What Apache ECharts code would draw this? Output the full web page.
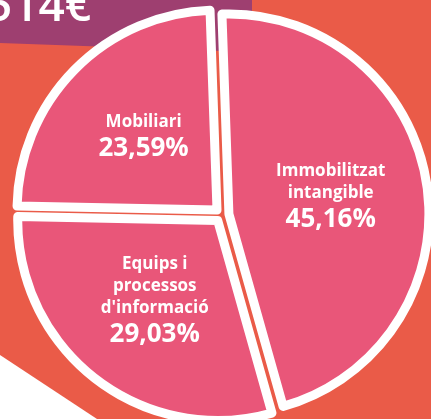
<!DOCTYPE html>
<html>
<head>
<meta charset="utf-8">
<script src="https://cdn.jsdelivr.net/npm/echarts@6/dist/echarts.min.js"></script>
<style>
  html, body { margin: 0; padding: 0; }
  #chart { width: 431px; height: 419px; }
</style>
</head>
<body>
<div id="chart"></div>
<script>
// slices in clockwise order from the top
const categories = ['Immobilitzat\nintangible', "Equips i\nprocessos\nd'informació", 'Mobiliari']
const values = [45.16, 29.03, 23.59]
const bannerText = '514€'

const chart = echarts.init(document.getElementById('chart'))

const fmt = v => v.toFixed(2).replace('.', ',') + '%'

chart.setOption({
  backgroundColor: '#EA5B48',
  animation: false,
  graphic: [
    {
      type: 'polygon',
      z: 0,
      shape: { points: [[0, 0], [252, 0], [252, 52], [0, 43]] },
      style: { fill: '#9E3F70' }
    },
    {
      type: 'text',
      z: 1,
      left: -14,
      top: -15,
      style: {
        text: bannerText,
        fill: '#fff',
        font: '600 46px "Open Sans", sans-serif'
      }
    },
    {
      type: 'polygon',
      z: 0,
      shape: { points: [[0, 355], [97, 419], [0, 419]] },
      style: { fill: '#fff' }
    }
  ],
  series: [
    {
      type: 'pie',
      z: 2,
      center: [222, 215],
      radius: [0, 200],
      startAngle: 92,
      clockwise: true,
      selectedMode: 'multiple',
      selectedOffset: 7,
      itemStyle: {
        color: '#E95679',
        borderColor: '#fff',
        borderWidth: 9
      },
      label: {
        position: 'inside',
        color: '#fff',
        fontFamily: '"Open Sans", sans-serif',
        fontWeight: 'bold',
        formatter: p => '{a|' + p.name + '}\n{b|' + fmt(p.value) + '}',
        rich: {
          a: { fontSize: 17, lineHeight: 22, fontWeight: 'bold', color: '#fff', fontFamily: '"Open Sans", sans-serif' },
          b: { fontSize: 26, lineHeight: 32, fontWeight: 'bold', color: '#fff', fontFamily: '"Open Sans", sans-serif' }
        }
      },
      labelLine: { show: false },
      emphasis: { disabled: true },
      data: categories.map((name, i) => ({ name, value: values[i], selected: true }))
    }
  ]
})
</script>
</body>
</html>
